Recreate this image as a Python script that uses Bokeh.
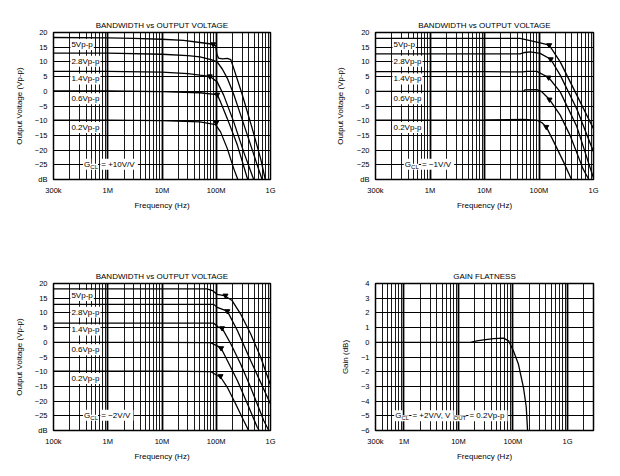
from bokeh.plotting import figure
from bokeh.models import FixedTicker, Label, Range1d
from bokeh.layouts import row, column
from bokeh.embed import file_html
from bokeh.resources import INLINE

FONT = "Liberation Sans"

curve_names = ["5Vp-p", "2.8Vp-p", "1.4Vp-p", "0.6Vp-p", "0.2Vp-p"]
label_db = [15.9, 10.2, 4.2, -2.5, -12.3]
label_f = 2.05e5

# ---------- Panel 1: G = +10V/V ----------
g10_freq = [
    [1e5, 1e6, 3e6, 1e7, 2.5e7, 5e7, 8.8e7, 9.8e7, 1.03e8, 1.1e8, 1.3e8, 1.6e8, 1.85e8, 2.1e8, 3e8, 4.5e8, 6.6e8, 8e8],
    [1e5, 1e6, 1e7, 3e7, 5e7, 8e7, 1.04e8, 1.3e8, 1.6e8, 2.1e8, 2.45e8, 3.75e8, 5.7e8, 7e8],
    [1e5, 1e6, 1e7, 3e7, 5e7, 7.6e7, 1.04e8, 1.37e8, 2.1e8, 3.2e8, 4.9e8],
    [1e5, 1e6, 1e7, 5e7, 1.04e8, 1.2e8, 1.6e8, 2.45e8, 3.8e8],
    [1e5, 1e6, 1e7, 5e7, 9.7e7, 1.2e8, 1.6e8, 2.1e8, 2.5e8],
]
g10_db = [
    [18.3, 18.2, 18.0, 17.7, 17.3, 16.6, 16.0, 15.4, 12.5, 11.3, 11.0, 11.2, 10.8, 7.8, -1.0, -12.0, -23.0, -30],
    [13.0, 13.0, 12.6, 12.1, 11.7, 10.8, 10.0, 7.5, 4.4, -1.0, -4.7, -14.9, -25.1, -30],
    [6.8, 6.8, 6.5, 6.0, 5.5, 5.1, 3.2, -1.3, -10.4, -20.6, -30],
    [0.1, 0.1, -0.1, -0.5, -1.1, -3.6, -9.3, -18.3, -30],
    [-9.8, -9.8, -10.0, -10.4, -11.3, -13.8, -19.5, -26.3, -30],
]
g10_mark_f = [8.8e7, 7.6e7, 1.04e8, 1.0e8]
g10_mark_db = [16.0, 5.1, -1.1, -10.6]

# ---------- Panel 2: G = -1V/V ----------
g1_freq = [
    [1e5, 1e7, 4.5e7, 6.9e7, 1.05e8, 1.54e8, 2.45e8, 4.94e8, 1e9],
    [1e5, 1e7, 4.5e7, 5.5e7, 6.9e7, 1.05e8, 1.64e8, 2.45e8, 4.94e8, 1e9],
    [1e5, 1e7, 5e7, 6e7, 9.1e7, 1.5e8, 2.45e8, 4.94e8, 1e9],
    [1e5, 1e7, 5.2e7, 5.5e7, 9.1e7, 1.1e8, 1.56e8, 2.45e8, 3.7e8, 6.4e8, 8.2e8],
    [1e5, 1e7, 5e7, 9.1e7, 1.12e8, 1.36e8, 1.87e8, 2.82e8, 3.95e8],
]
g1_db = [
    [18.0, 18.0, 18.0, 17.2, 16.5, 15.7, 10.0, -1.3, -12.7],
    [12.7, 12.7, 12.7, 13.2, 13.4, 12.9, 10.9, 5.5, -6.0, -20.6],
    [6.7, 6.7, 6.6, 6.8, 6.8, 4.7, -0.2, -12.0, -29.5],
    [0.0, 0.0, 0.0, 0.5, 0.6, 0.0, -2.8, -8.1, -14.9, -26.3, -30],
    [-9.8, -9.7, -9.6, -9.8, -10.6, -12.1, -17.2, -24.0, -30],
]
g1_mark_f = [1.54e8, 1.64e8, 1.5e8, 1.56e8, 1.36e8]
g1_mark_db = [15.7, 10.9, 4.7, -2.8, -12.1]

# ---------- Panel 3: G = -2V/V ----------
g2_freq = [
    [1e5, 1e7, 6.8e7, 8.5e7, 1.04e8, 1.4e8, 1.96e8, 2.8e8, 4.3e8, 6.6e8, 1e9],
    [1e5, 1e7, 9e7, 1.04e8, 1.6e8, 2.45e8, 4.3e8, 1e9],
    [1e5, 1e7, 9e7, 1.1e8, 1.28e8, 1.85e8, 2.8e8, 4.3e8, 7.5e8, 9.3e8],
    [1e5, 1e7, 7.8e7, 1.04e8, 1.23e8, 1.6e8, 2.45e8, 3.75e8, 5.7e8, 6.2e8],
    [1e5, 1e7, 8e7, 1.04e8, 1.2e8, 1.6e8, 2.27e8, 3.2e8, 3.95e8],
]
g2_db = [
    [18.2, 18.2, 18.2, 17.6, 16.3, 15.9, 14.2, 9.7, 2.9, -5.1, -14.5],
    [12.9, 12.9, 12.9, 11.9, 10.6, 4.0, -6.2, -21.0],
    [6.5, 6.5, 6.5, 5.1, 4.8, -0.5, -7.3, -15.3, -26.6, -30],
    [0.0, 0.0, -0.1, -1.2, -2.0, -6.2, -13.0, -20.9, -28.9, -30],
    [-9.8, -9.8, -10.0, -11.3, -11.8, -15.3, -20.9, -26.6, -30],
]
g2_mark_f = [1.48e8, 1.6e8, 1.28e8, 1.23e8, 1.2e8]
g2_mark_db = [15.9, 10.6, 4.8, -2.0, -11.5]

# ---------- Panel 4: gain flatness ----------
flat_freq = [3e5, 1e6, 1e7, 1.65e7, 2.18e7, 2.9e7, 4.4e7, 6.7e7, 8.3e7, 1.02e8, 1.26e8, 1.56e8, 1.75e8, 1.85e8]
flat_db = [0, 0, 0, 0, 0.1, 0.17, 0.25, 0.28, 0.1, -0.59, -1.5, -3.1, -4.4, -6.0]

db_ticks = [-30, -25, -20, -15, -10, -5, 0, 5, 10, 15, 20]
db_labels = ["dB", "\u221225", "\u221220", "\u221215", "\u221210", "\u22125", "0", "5", "10", "15", "20"]
gain_ticks = [-6, -5, -4, -3, -2, -1, 0, 1, 2, 3, 4]
gain_labels = ["\u22126", "\u22125", "\u22124", "\u22123", "\u22122", "\u22121", "0", "1", "2", "3", "4"]
freq_ticks = [1e5, 1e6, 1e7, 1e8, 1e9]
freq_labels_a = ["300k", "1M", "10M", "100M", "1G"]
freq_labels_c = ["100k", "1M", "10M", "100M", "1G"]
flat_ticks = [3e5, 1e6, 1e7, 1e8, 1e9]
flat_labels = ["300k", "1M", "10M", "100M", "1G"]

CW = {"G": .778, "C": .722, "L": .556, "O": .778, "U": .722, "T": .611, " ": .278, "=": .584,
      "+": .584, "\u2212": .584, "/": .278, ",": .278, "V": .667, "p": .556, "-": .333, ".": .278}


def tw(s, size):
    return sum(CW.get(c, .556) for c in s) * size


def make_fig(w, h, bl, br, bt, bb, xr, yr, title):
    p = figure(width=w, height=h, x_axis_type="log", output_backend="svg",
               toolbar_location=None, min_border_left=bl, min_border_right=br,
               min_border_top=bt, min_border_bottom=bb,
               x_range=Range1d(*xr), y_range=Range1d(*yr))
    p.title.text = title
    p.title.text_font = FONT
    p.title.text_font_size = "8px"
    p.title.text_font_style = "normal"
    p.title.text_color = "black"
    p.title.align = "center"
    p.title.standoff = 6
    p.outline_line_color = "black"
    p.outline_line_width = 1.5
    p.background_fill_color = "white"
    p.border_fill_color = "white"
    for ax in (p.xaxis[0], p.yaxis[0]):
        ax.axis_line_color = None
        ax.major_tick_line_color = None
        ax.minor_tick_line_color = None
        ax.major_tick_in = 0
        ax.major_tick_out = 0
        ax.minor_tick_in = 0
        ax.minor_tick_out = 0
        ax.major_label_text_font = FONT
        ax.major_label_text_font_size = "7.5px"
        ax.major_label_text_color = "black"
        ax.axis_label_text_font = FONT
        ax.axis_label_text_font_size = "8px"
        ax.axis_label_text_font_style = "normal"
        ax.axis_label_text_color = "black"
    p.xaxis.major_label_standoff = 6
    p.xaxis.axis_label_standoff = 3
    p.xaxis.axis_label = "Frequency (Hz)"
    p.yaxis.major_label_standoff = 6
    return p


def set_grids(p, lo_exp, hi_exp, ymin, ymax, ystep):
    decs = [10.0 ** e for e in range(lo_exp, hi_exp + 1)]
    minors = [m * 10.0 ** e for e in range(lo_exp - 1, hi_exp + 1) for m in range(2, 10)]
    p.xgrid.ticker = FixedTicker(ticks=decs, minor_ticks=minors)
    p.xgrid.grid_line_color = "black"
    p.xgrid.grid_line_width = 1.8
    p.xgrid.minor_grid_line_color = "black"
    p.xgrid.minor_grid_line_width = 0.9
    p.ygrid.ticker = FixedTicker(ticks=list(range(ymin, ymax + 1, ystep)))
    p.ygrid.grid_line_color = "black"
    p.ygrid.grid_line_width = 1


def add_curves(p, freqs, dbs, mf, mdb):
    for f, d in zip(freqs, dbs):
        p.line(f, d, line_color="black", line_width=1.3)
    p.scatter(mf, mdb, marker="inverted_triangle", size=5, color="black")
    for name, yv in zip(curve_names, label_db):
        p.add_layout(Label(x=label_f, y=yv, text=name, text_font=FONT, text_font_size="8px",
                           text_color="black", text_baseline="middle", text_align="left",
                           background_fill_color="white", padding=1))


def add_gcl(p, x, y, segments):
    off = 0.0
    subs = []
    for txt, size, dy in segments:
        if size > 7:
            p.add_layout(Label(x=x, y=y, x_offset=off, y_offset=dy, text=txt, text_font=FONT,
                               text_font_size=f"{size}px", text_color="black",
                               text_baseline="middle", text_align="left",
                               background_fill_color="white", padding=1))
            off += tw(txt, size) + 0.8
        else:
            subs.append((txt, size, dy, off + 0.3))
            off += tw(txt, size) + 2.6
    for txt, size, dy, o in subs:
        p.add_layout(Label(x=x, y=y, x_offset=o, y_offset=dy, text=txt, text_font=FONT,
                           text_font_size=f"{size}px", text_color="black",
                           text_baseline="middle", text_align="left",
                           background_fill_color="white", padding=0))


def bw_fig(w, bl, br, xlabels, ylabel_standoff, freqs, dbs, mf, mdb, gain_txt, h, bt, bb, gx):
    p = make_fig(w, h, bl, br, bt, bb, (1e5, 1e9), (-30, 20), "BANDWIDTH vs OUTPUT VOLTAGE")
    p.xaxis.ticker = FixedTicker(ticks=freq_ticks)
    p.xaxis.major_label_overrides = {t: l for t, l in zip(freq_ticks, xlabels)}
    p.yaxis.ticker = FixedTicker(ticks=db_ticks)
    p.yaxis.major_label_overrides = {t: l for t, l in zip(db_ticks, db_labels)}
    p.yaxis.axis_label = "Output Voltage (Vp-p)"
    p.yaxis.axis_label_standoff = ylabel_standoff
    set_grids(p, 5, 9, -30, 20, 5)
    add_curves(p, freqs, dbs, mf, mdb)
    add_gcl(p, gx, -24.8, [("G", 8, 0), ("CL", 6, -2.5), (gain_txt, 8, 0)])
    return p


p1 = bw_fig(310, 53, 40, freq_labels_a, 8, g10_freq, g10_db, g10_mark_f, g10_mark_db,
            " = +10V/V", 258, 32, 79, 3.5e5)
p2 = bw_fig(310, 65, 27, freq_labels_a, 9, g1_freq, g1_db, g1_mark_f, g1_mark_db,
            " = \u22121V/V", 258, 32, 79, 3.3e5)
p3 = bw_fig(310, 53, 40, freq_labels_c, 8, g2_freq, g2_db, g2_mark_f, g2_mark_db,
            " = \u22122V/V", 218, 25, 46, 3.5e5)

p4 = make_fig(310, 218, 65, 27, 25, 46, (3e5, 3e9), (-6, 4), "GAIN FLATNESS")
p4.xaxis.ticker = FixedTicker(ticks=flat_ticks)
p4.xaxis.major_label_overrides = {t: l for t, l in zip(flat_ticks, flat_labels)}
p4.yaxis.ticker = FixedTicker(ticks=gain_ticks)
p4.yaxis.major_label_overrides = {t: l for t, l in zip(gain_ticks, gain_labels)}
p4.yaxis.axis_label = "Gain (dB)"
p4.yaxis.axis_label_standoff = 8
set_grids(p4, 6, 9, -6, 4, 1)
p4.line(flat_freq, flat_db, line_color="black", line_width=1.3)
add_gcl(p4, 6.6e5, -5.0, [("G", 8, 0), ("CL", 6, -2.5), (" = +2V/V, V", 8, 0),
                          ("OUT", 6, -2.5), (" = 0.2Vp-p", 8, 0)])

layout = column(row(p1, p2), row(p3, p4))
open("out.html", "w").write(file_html(layout, INLINE))
